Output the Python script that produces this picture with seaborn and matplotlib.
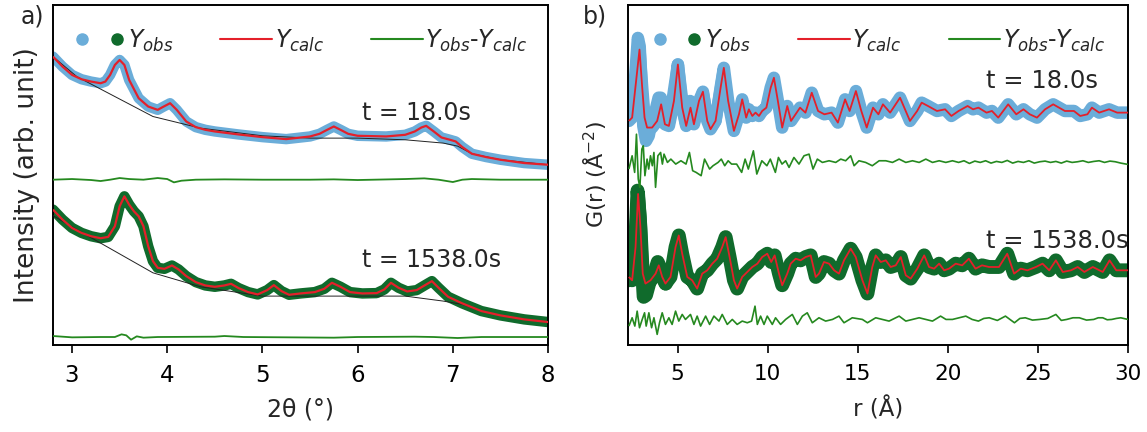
import numpy as np
import pandas as pd
import seaborn as sns
import matplotlib
matplotlib.use("Agg")
import matplotlib.pyplot as plt
from matplotlib.lines import Line2D
from matplotlib.legend_handler import HandlerTuple

# ---------------- XRD refinement (panel a) ----------------
# 2theta positions and intensities (arb. units) for the two time steps
tt_18 = [2.80, 2.90, 3.00, 3.10, 3.20, 3.30, 3.35, 3.40, 3.45, 3.50, 3.55, 3.60, 3.70, 3.80,
         3.90, 3.95, 4.03, 4.10, 4.20, 4.30, 4.40, 4.50, 4.75, 5.00, 5.25, 5.50, 5.60, 5.68,
         5.75, 5.82, 5.90, 6.00, 6.30, 6.50, 6.60, 6.67, 6.72, 6.80, 6.88, 6.97, 7.03, 7.10,
         7.20, 7.35, 7.50, 7.75, 8.00]
ycalc_18 = [3.67, 3.37, 3.12, 2.99, 2.92, 2.87, 2.92, 3.12, 3.42, 3.57, 3.42, 2.97, 2.42, 2.17,
            2.07, 2.15, 2.27, 2.07, 1.72, 1.55, 1.47, 1.42, 1.33, 1.25, 1.19, 1.27, 1.35, 1.47,
            1.57, 1.47, 1.35, 1.29, 1.27, 1.32, 1.42, 1.54, 1.59, 1.42, 1.24, 1.17, 1.12, 0.95,
            0.75, 0.65, 0.57, 0.47, 0.42]
bg_tt_18 = [2.80, 3.05, 3.85, 4.35, 5.00, 5.50, 6.00, 6.50, 6.90, 7.05, 7.20, 7.50, 8.00]
bg_18 = [3.67, 3.07, 1.87, 1.52, 1.29, 1.22, 1.22, 1.17, 1.07, 0.98, 0.75, 0.57, 0.42]
dtt_18 = [2.80, 3.00, 3.20, 3.30, 3.40, 3.50, 3.60, 3.75, 3.90, 4.00, 4.07, 4.15, 4.30, 4.60,
          5.00, 5.50, 5.75, 6.00, 6.50, 6.70, 6.85, 7.00, 7.10, 7.20, 7.50, 8.00]
diff_18 = [0.00, 0.02, -0.01, -0.04, 0.00, 0.05, 0.02, 0.00, 0.05, 0.02, -0.08, -0.03, 0.00,
           0.01, 0.00, 0.00, 0.01, -0.01, 0.02, 0.04, 0.00, -0.07, 0.00, 0.02, 0.00, 0.00]

tt_1538 = [2.80, 2.90, 3.00, 3.10, 3.20, 3.30, 3.38, 3.45, 3.50, 3.55, 3.60, 3.65, 3.70, 3.75,
           3.80, 3.85, 3.90, 3.97, 4.05, 4.12, 4.20, 4.30, 4.40, 4.50, 4.60, 4.67, 4.75, 4.85,
           4.95, 5.05, 5.12, 5.20, 5.28, 5.40, 5.55, 5.65, 5.73, 5.82, 5.92, 6.05, 6.20, 6.28,
           6.35, 6.43, 6.52, 6.62, 6.72, 6.78, 6.85, 6.95, 7.10, 7.30, 7.50, 7.75, 8.00]
ycalc_1538 = [3.57, 3.27, 3.02, 2.87, 2.77, 2.71, 2.75, 3.07, 3.67, 3.97, 3.72, 3.52, 3.37, 3.07,
              2.47, 2.02, 1.82, 1.79, 1.89, 1.77, 1.57, 1.39, 1.29, 1.25, 1.29, 1.34, 1.21, 1.09,
              1.02, 1.15, 1.30, 1.12, 1.01, 1.05, 1.09, 1.19, 1.37, 1.25, 1.09, 1.05, 1.06, 1.17,
              1.37, 1.22, 1.11, 1.15, 1.32, 1.42, 1.22, 0.95, 0.75, 0.52, 0.39, 0.27, 0.19]
bg_tt_1538 = [2.80, 3.05, 3.85, 4.35, 5.00, 6.00, 6.50, 6.90, 7.10, 7.30, 7.50, 7.75, 8.00]
bg_1538 = [3.39, 2.97, 1.67, 1.25, 0.97, 0.97, 0.97, 0.82, 0.72, 0.52, 0.39, 0.27, 0.19]
dtt_1538 = [2.80, 3.00, 3.30, 3.45, 3.52, 3.57, 3.62, 3.68, 3.75, 3.90, 4.50, 4.60, 4.80,
            5.75, 6.00, 6.60, 6.80, 7.05, 7.30, 8.00]
diff_1538 = [0.03, -0.01, 0.00, 0.00, 0.08, 0.05, -0.08, 0.02, -0.02, 0.00, 0.01, 0.03, 0.00,
             -0.02, 0.00, 0.01, 0.00, -0.03, 0.00, 0.00]

# ---------------- PDF refinement (panel b) ----------------
r_18 = [2.30, 2.48, 2.70, 2.89, 3.04, 3.17, 3.31, 3.59, 3.87, 4.09, 4.30, 4.52, 4.80, 5.02,
        5.26, 5.48, 5.72, 5.91, 6.19, 6.41, 6.65, 6.83, 7.11, 7.39, 7.57, 7.81, 8.13, 8.41,
        8.59, 8.81, 8.96, 9.15, 9.33, 9.52, 9.70, 9.93, 10.17, 10.35, 10.57, 10.81, 11.09,
        11.30, 11.80, 12.10, 12.45, 12.80, 13.15, 13.55, 13.90, 14.30, 14.55, 14.90, 15.20,
        15.50, 15.85, 16.15, 16.40, 16.80, 17.35, 17.90, 18.30, 18.55, 18.90, 19.40, 19.85,
        20.20, 20.60, 21.10, 21.40, 21.70, 22.15, 22.45, 22.80, 23.35, 23.80, 24.20, 24.55,
        24.95, 25.40, 25.85, 26.50, 27.00, 27.35, 27.75, 28.00, 28.40, 28.95, 29.40, 30.00]
gcalc_18 = [-0.15, -0.05, 1.05, 2.00, 0.85, -0.05, -0.35, -0.35, -0.15, 0.35, -0.25, -0.30,
            0.45, 1.55, 0.25, -0.30, 0.25, -0.25, 0.45, 0.73, -0.15, -0.40, -0.15, 0.85, 1.45,
            0.45, -0.45, 0.05, 0.50, -0.05, 0.20, 0.00, 0.10, 0.00, 0.15, 0.25, 0.85, 1.15,
            0.45, -0.35, 0.30, -0.15, 0.25, 0.10, 0.70, 0.15, 0.05, 0.10, -0.20, 0.50, 0.15,
            0.75, 0.15, -0.35, 0.25, 0.05, 0.35, 0.10, 0.55, -0.15, 0.15, 0.40, 0.30, 0.15,
            0.20, 0.00, 0.15, 0.30, 0.20, 0.25, 0.10, 0.15, -0.05, 0.35, 0.05, 0.20, 0.05,
            -0.05, 0.20, 0.35, 0.15, 0.15, 0.00, 0.05, 0.25, 0.10, 0.20, 0.10, 0.10]
# observed G(r) where it departs from the fit (low r)
robs_18 = [2.30, 2.50, 2.65, 2.80, 2.90, 3.00, 3.10, 3.25, 3.40, 3.55, 3.75, 3.95, 4.07,
           4.20, 4.35, 4.55, 4.80, 5.02, 5.25, 5.45, 5.70, 5.90, 6.15, 6.40, 6.65, 6.85,
           7.10, 7.40, 7.57]
gobs_18 = [-0.10, 0.10, 1.20, 2.35, 2.10, 0.90, -0.30, -0.75, -0.60, -0.20, 0.10, 0.55, 0.55,
           0.10, -0.25, -0.15, 0.75, 1.55, 0.50, -0.20, 0.45, -0.20, 0.25, 0.70, 0.00, -0.35,
           -0.15, 0.80, 1.40]
rd_18 = [2.30, 2.48, 2.62, 2.72, 2.82, 2.91, 3.02, 3.10, 3.19, 3.31, 3.40, 3.50, 3.60, 3.69,
         3.78, 3.91, 4.06, 4.16, 4.25, 4.44, 4.63, 4.90, 5.19, 5.47, 5.66, 5.84, 6.03, 6.31,
         6.50, 6.78, 6.97, 7.25, 7.43, 7.62, 7.81, 8.00, 8.28, 8.56, 8.75, 8.93, 9.21, 9.40,
         9.68, 9.96, 10.15, 10.43, 10.60, 10.80, 11.00, 11.19, 11.46, 11.74, 12.02, 12.30,
         12.52, 12.76, 13.04, 13.41, 13.78, 14.06, 14.33, 14.61, 14.80, 15.07, 15.44, 15.81,
         16.19, 16.56, 16.93, 17.30, 17.67, 18.04, 18.41, 18.78, 19.15, 19.52, 19.89, 20.26,
         20.60, 20.90, 21.20, 21.50, 21.80, 22.10, 22.40, 22.70, 23.00, 23.30, 23.60, 23.90,
         24.20, 24.50, 24.80, 25.10, 25.40, 25.70, 26.00, 26.30, 26.60, 26.90, 27.20, 27.50,
         27.80, 28.10, 28.40, 28.70, 29.00, 29.30, 29.60, 30.00]
gdiff_18 = [-0.20, 0.20, -0.30, 0.85, -0.50, -0.75, 0.40, 0.50, -0.40, 0.10, -0.20, 0.20,
            -0.10, 0.30, -0.75, 0.20, 0.30, -0.05, 0.25, 0.00, 0.10, -0.05, 0.05, -0.05, 0.30,
            -0.25, -0.30, -0.40, 0.10, -0.20, -0.10, 0.00, 0.10, -0.10, 0.05, -0.05, -0.05,
            -0.30, 0.10, -0.20, 0.35, -0.35, 0.05, -0.10, 0.10, -0.30, 0.15, -0.05, 0.05,
            -0.15, 0.15, -0.05, 0.20, 0.25, -0.20, 0.10, 0.00, 0.05, 0.00, 0.10, 0.05, 0.20,
            -0.10, 0.05, 0.00, -0.10, 0.05, 0.05, 0.00, 0.10, 0.00, 0.05, 0.00, 0.10, 0.00,
            0.05, 0.00, 0.05, 0.00, 0.05, -0.03, 0.04, 0.00, 0.05, -0.02, 0.03, 0.00, 0.06,
            -0.02, 0.03, 0.00, 0.05, -0.02, 0.02, 0.04, 0.00, 0.03, -0.02, 0.04, 0.00, 0.02,
            0.05, 0.00, 0.03, 0.05, 0.00, 0.04, 0.02, -0.02, -0.06]

r_1538 = [2.30, 2.48, 2.67, 2.81, 2.94, 3.07, 3.22, 3.50, 3.78, 3.96, 4.15, 4.33, 4.61, 4.89,
          5.07, 5.26, 5.54, 5.81, 6.09, 6.37, 6.65, 6.93, 7.20, 7.48, 7.67, 7.89, 8.13, 8.31,
          8.59, 8.87, 9.15, 9.43, 9.70, 9.98, 10.20, 10.39, 10.63, 10.81, 11.09, 11.28, 11.56,
          11.83, 12.11, 12.39, 12.67, 12.85, 13.13, 13.41, 13.69, 13.96, 14.24, 14.61, 14.89,
          15.26, 15.54, 15.81, 16.00, 16.28, 16.56, 16.83, 17.11, 17.39, 17.67, 17.94, 18.31,
          18.69, 18.96, 19.24, 19.52, 19.80, 20.07, 20.44, 20.80, 21.17, 21.54, 21.90, 22.29,
          22.84, 23.30, 23.68, 24.05, 24.42, 24.89, 25.26, 25.63, 26.00, 26.38, 26.84, 27.21,
          27.58, 28.05, 28.60, 28.98, 29.35, 30.00]
gcalc_1538 = [-0.20, -0.30, 0.70, 2.30, 1.30, -0.10, -0.40, -0.30, -0.10, 0.15, -0.20, -0.40,
              -0.20, 0.70, 1.05, 0.50, -0.20, -0.30, -0.55, -0.10, 0.00, 0.20, 0.35, 0.70,
              1.00, 0.40, -0.30, -0.55, -0.20, -0.05, 0.10, 0.20, 0.40, 0.50, 0.25, 0.45,
              -0.10, -0.45, -0.10, 0.20, 0.35, 0.30, 0.40, 0.45, -0.20, -0.10, 0.25, 0.20,
              0.00, -0.10, 0.30, 0.65, 0.40, -0.30, -0.70, 0.10, 0.45, 0.25, 0.30, 0.10, 0.15,
              0.40, -0.15, -0.25, 0.05, 0.45, 0.10, 0.05, 0.20, 0.00, 0.05, 0.20, 0.15, 0.35,
              0.05, 0.15, 0.10, 0.10, 0.50, -0.10, 0.05, 0.00, 0.10, 0.20, 0.00, 0.30, -0.05,
              0.00, 0.10, -0.05, 0.10, -0.05, 0.30, 0.00, 0.00]
robs_1538 = [2.30, 2.50, 2.65, 2.78, 2.90, 3.00, 3.12, 3.25, 3.45, 3.65, 3.90, 4.10, 4.35]
gobs_1538 = [-0.30, -0.20, 0.80, 2.40, 1.60, 0.30, -0.80, -0.75, -0.35, -0.20, 0.25, 0.00,
             -0.40]
rd_1538 = [2.30, 2.48, 2.63, 2.76, 2.89, 3.04, 3.17, 3.26, 3.41, 3.56, 3.69, 3.87, 4.00, 4.15,
           4.33, 4.52, 4.70, 4.89, 5.07, 5.26, 5.44, 5.72, 5.91, 6.09, 6.28, 6.56, 6.78, 7.02,
           7.30, 7.48, 7.76, 8.04, 8.31, 8.59, 8.87, 9.11, 9.30, 9.43, 9.61, 9.80, 9.98, 10.26,
           10.44, 10.72, 11.00, 11.37, 11.65, 11.93, 12.20, 12.48, 12.85, 13.22, 13.60, 13.96,
           14.24, 14.70, 15.26, 15.54, 16.00, 16.37, 16.74, 17.30, 17.67, 18.04, 18.41, 18.78,
           19.15, 19.60, 19.90, 20.26, 20.63, 21.00, 21.35, 21.70, 22.00, 22.30, 22.75, 23.20,
           23.70, 24.00, 24.30, 24.70, 25.10, 25.55, 26.00, 26.30, 26.60, 26.95, 27.30, 27.70,
           28.10, 28.35, 28.60, 28.85, 29.10, 29.35, 29.60, 30.00]
gdiff_1538 = [-0.15, 0.10, -0.15, 0.30, -0.20, 0.05, 0.25, -0.15, 0.25, -0.20, 0.10, -0.40,
              -0.05, 0.25, -0.10, 0.10, -0.10, 0.30, 0.00, 0.20, 0.05, 0.20, -0.10, 0.15,
              -0.15, 0.15, -0.10, 0.15, 0.00, 0.20, -0.10, 0.05, -0.10, 0.00, -0.05, 0.00,
              0.45, -0.10, 0.15, -0.10, 0.15, -0.10, 0.10, -0.10, 0.05, 0.20, -0.10, 0.15,
              0.25, -0.05, 0.10, 0.00, 0.05, 0.15, -0.05, 0.10, 0.05, -0.05, 0.10, 0.05, 0.00,
              0.15, 0.00, 0.05, 0.10, 0.05, 0.00, 0.15, 0.05, 0.05, 0.10, 0.15, 0.05, 0.00,
              0.08, 0.10, 0.02, 0.15, -0.05, 0.08, 0.10, 0.03, 0.05, 0.08, 0.20, 0.02, 0.05,
              0.10, 0.10, 0.03, 0.05, 0.10, 0.10, 0.04, 0.05, 0.08, 0.10, 0.05]

# vertical stacking offsets
OFF_A = {"calc18": 5.0, "diff18": 4.97, "calc1538": 0.5, "diff1538": 0.24}
OFF_B = {"calc18": 6.90, "diff18": 5.50, "calc1538": 2.25, "diff1538": 0.72}

C_OBS18 = "#6badd9"
C_OBS1538 = "#106b2c"
C_CALC = "#e4202a"
C_DIFF = "#25891f"

sns.set_theme(style="ticks")
plt.rcParams["font.family"] = ["DejaVu Sans"]
plt.rcParams["mathtext.fontset"] = "dejavusans"

fig = plt.figure(figsize=(11.47, 4.32), dpi=100)
ax_a = fig.add_axes([0.0462, 0.2014, 0.4316, 0.7876])
ax_b = fig.add_axes([0.5475, 0.2014, 0.4359, 0.7876])


def curve(ax, x, y, off, color, lw, z, cap="butt"):
    df = pd.DataFrame({"x": x, "y": np.asarray(y) + off})
    sns.lineplot(data=df, x="x", y="y", ax=ax, color=color, linewidth=lw,
                 estimator=None, sort=False, zorder=z, solid_capstyle=cap,
                 solid_joinstyle="round")


# panel a
curve(ax_a, tt_18, ycalc_18, OFF_A["calc18"], C_OBS18, 7.5, 2, "round")
curve(ax_a, bg_tt_18, bg_18, OFF_A["calc18"], "#222222", 0.7, 3)
curve(ax_a, tt_18, ycalc_18, OFF_A["calc18"], C_CALC, 1.6, 4)
curve(ax_a, dtt_18, diff_18, OFF_A["diff18"], C_DIFF, 1.3, 4)
curve(ax_a, tt_1538, ycalc_1538, OFF_A["calc1538"], C_OBS1538, 7.5, 2, "round")
curve(ax_a, bg_tt_1538, bg_1538, OFF_A["calc1538"], "#222222", 0.7, 3)
curve(ax_a, tt_1538, ycalc_1538, OFF_A["calc1538"], C_CALC, 1.6, 4)
curve(ax_a, dtt_1538, diff_1538, OFF_A["diff1538"], C_DIFF, 1.3, 4)

# panel b
curve(ax_b, robs_18, gobs_18, OFF_B["calc18"], C_OBS18, 9.0, 2, "round")
curve(ax_b, r_18, gcalc_18, OFF_B["calc18"], C_OBS18, 9.0, 2, "round")
curve(ax_b, r_18, gcalc_18, OFF_B["calc18"], C_CALC, 1.3, 4)
curve(ax_b, rd_18, gdiff_18, OFF_B["diff18"], C_DIFF, 1.2, 4)
curve(ax_b, robs_1538, gobs_1538, OFF_B["calc1538"], C_OBS1538, 10.0, 2, "round")
curve(ax_b, r_1538, gcalc_1538, OFF_B["calc1538"], C_OBS1538, 10.0, 2, "round")
curve(ax_b, r_1538, gcalc_1538, OFF_B["calc1538"], C_CALC, 1.3, 4)
curve(ax_b, rd_1538, gdiff_1538, OFF_B["diff1538"], C_DIFF, 1.2, 4)

ax_a.set_xlim(2.8, 8.0)
ax_a.set_ylim(0, 10.23)
ax_a.set_xticks([3, 4, 5, 6, 7, 8])
ax_b.set_xlim(2.25, 30.0)
ax_b.set_ylim(0, 10.25)
ax_b.set_xticks([5, 10, 15, 20, 25, 30])

for ax, lsize in ((ax_a, 16.5), (ax_b, 15.5)):
    ax.set_yticks([])
    for s in ax.spines.values():
        s.set_visible(True)
        s.set_color("black")
        s.set_linewidth(1.4)
    ax.tick_params(axis="x", direction="out", length=6, width=1.2, colors="black",
                   labelsize=lsize, pad=8)
    ax.set_facecolor("white")

ax_a.set_xlabel("2θ (°)", fontsize=17, labelpad=7)
ax_a.set_ylabel("Intensity (arb. unit)", fontsize=19, labelpad=9)
ax_b.set_xlabel("r (Å)", fontsize=16.5, labelpad=9)
ax_b.set_ylabel("G(r) (Å$^{-2}$)", fontsize=16, labelpad=14)

ax_a.text(6.05, 6.98, "t = 18.0s", fontsize=17, va="center", ha="left")
ax_a.text(6.05, 2.57, "t = 1538.0s", fontsize=17, va="center", ha="left")
ax_b.text(22.1, 7.94, "t = 18.0s", fontsize=17.5, va="center", ha="left")
ax_b.text(22.1, 3.14, "t = 1538.0s", fontsize=17.5, va="center", ha="left")

fig.text(0.018, 0.962, "a)", fontsize=17, va="center", ha="left")
fig.text(0.508, 0.962, "b)", fontsize=17, va="center", ha="left")

# legend: paired observed markers, calc line, difference line
for ax in (ax_a, ax_b):
    h_obs = (Line2D([], [], ls="none", marker="o", ms=8, color=C_OBS18),
             Line2D([], [], ls="none", marker="o", ms=8, color=C_OBS1538))
    h_calc = Line2D([], [], color=C_CALC, lw=1.5)
    h_diff = Line2D([], [], color=C_DIFF, lw=1.5)
    ax.legend([h_obs, h_calc, h_diff],
              ["$Y_{obs}$", "$Y_{calc}$", "$Y_{obs}$-$Y_{calc}$"],
              handler_map={tuple: HandlerTuple(ndivide=None, pad=0.7)},
              loc="upper center", bbox_to_anchor=(0.5, 0.975), ncol=3, frameon=False,
              fontsize=17, handlelength=2.2, handletextpad=0.1, columnspacing=2.0,
              borderaxespad=0.2)

fig.savefig("out.png", dpi=100, facecolor="white")
